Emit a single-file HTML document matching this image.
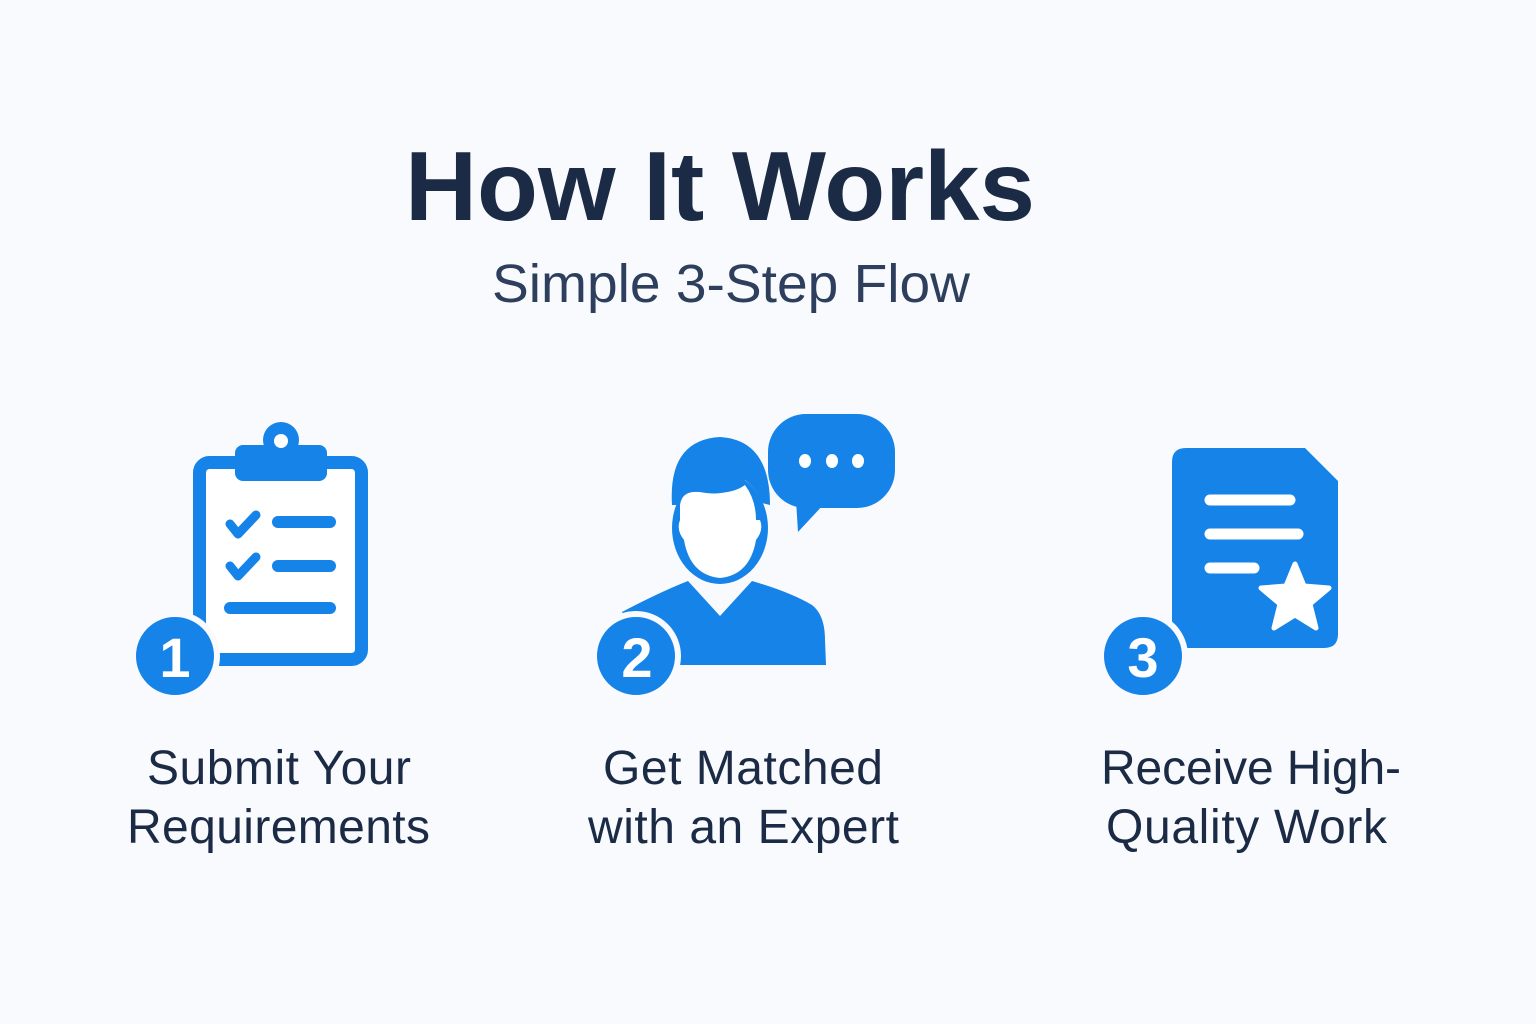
<!DOCTYPE html>
<html><head><meta charset="utf-8"><style>
html,body{margin:0;padding:0;background:#f8fafd;}
svg{display:block}
text{font-family:"Liberation Sans","DejaVu Sans",sans-serif;}
</style></head><body>
<svg width="1536" height="1024" viewBox="0 0 1536 1024" xmlns="http://www.w3.org/2000/svg">
<rect width="1536" height="1024" fill="#f8fafd"/>
<text x="405" y="220" font-size="98" font-weight="bold" fill="#1b2a45" textLength="630" lengthAdjust="spacingAndGlyphs">How It Works</text>
<text x="492" y="302" font-size="54" fill="#2e3f5e" textLength="478" lengthAdjust="spacingAndGlyphs">Simple 3-Step Flow</text>

<!-- Clipboard -->
<g fill="#1683e8">
<rect x="199.5" y="462.5" width="162" height="197" rx="10" fill="#fff" stroke="#1683e8" stroke-width="13"/>
<circle cx="281" cy="440" r="18"/>
<rect x="235" y="445" width="92" height="36" rx="8"/>
<circle cx="281" cy="441" r="7" fill="#fff"/>
<g stroke="#1683e8" stroke-width="9" stroke-linecap="round" stroke-linejoin="round" fill="none">
<path d="M230 524 L238 534 L256 515"/>
<path d="M230 566 L238 576 L256 557"/>
</g>
<g stroke="#1683e8" stroke-width="12" stroke-linecap="round">
<line x1="278" y1="522" x2="330" y2="522"/>
<line x1="278" y1="566" x2="330" y2="566"/>
<line x1="230" y1="608" x2="330" y2="608"/>
</g>
<circle cx="175" cy="656" r="42" stroke="#f8fafd" stroke-width="6"/>
</g>
<text x="175" y="677" text-anchor="middle" font-size="56" font-weight="bold" fill="#fff">1</text>

<!-- Person -->
<g fill="#1683e8">
<path d="M622 612 Q660 592 688 581 L720 616 L752 581 Q790 592 812 605 Q825 615 825 640 L826 665 L640 665 Z"/>
<ellipse cx="720" cy="528" rx="48" ry="56" fill="#1683e8"/>
<path d="M680 505 Q680 490 700 492 Q730 496 745 485 Q756 500 756 520 L760 520 Q764 530 756 540 Q750 575 720 578 Q690 575 684 540 Q676 530 680 520 Z" fill="#fff"/>
<path d="M672 505 Q668 440 720 437 Q770 440 770 505 L762 503 Q758 490 745 480 Q730 498 700 492 Q682 490 680 505 Z"/>
<path d="M796 500 L798 532 L824 504 Z"/>
<rect x="768" y="414" width="127" height="94" rx="38"/>
</g>
<g fill="#fff"><ellipse cx="805" cy="461" rx="6" ry="7"/><ellipse cx="832" cy="461" rx="6" ry="7"/><ellipse cx="858" cy="461" rx="6" ry="7"/></g>
<circle cx="636" cy="656" r="42" fill="#1683e8" stroke="#f8fafd" stroke-width="6"/>
<text x="637" y="677" text-anchor="middle" font-size="56" font-weight="bold" fill="#fff">2</text>

<!-- Document -->
<path d="M1186 448 L1305 448 L1338 481 L1338 634 Q1338 648 1324 648 L1186 648 Q1172 648 1172 634 L1172 462 Q1172 448 1186 448 Z" fill="#1683e8"/>
<g stroke="#fff" stroke-width="11" stroke-linecap="round">
<line x1="1210" y1="500" x2="1290" y2="500"/>
<line x1="1210" y1="534" x2="1298" y2="534"/>
<line x1="1210" y1="568" x2="1254" y2="568"/>
</g>
<polygon points="1295,564 1304,586 1329,588 1310,604 1316,628 1295,615 1274,628 1280,604 1261,588 1286,586" fill="#fff" stroke="#fff" stroke-width="5" stroke-linejoin="round"/>
<circle cx="1143" cy="656" r="42" fill="#1683e8" stroke="#f8fafd" stroke-width="6"/>
<text x="1143" y="677" text-anchor="middle" font-size="56" font-weight="bold" fill="#fff">3</text>

<g font-size="48" fill="#1b2a45" lengthAdjust="spacingAndGlyphs">
<text x="147" y="784" textLength="264">Submit Your</text>
<text x="127" y="843" textLength="303">Requirements</text>
<text x="603" y="784" textLength="280">Get Matched</text>
<text x="588" y="843" textLength="311">with an Expert</text>
<text x="1101" y="784" textLength="300">Receive High-</text>
<text x="1106" y="843" textLength="281">Quality Work</text>
</g>
</svg>
</body></html>
